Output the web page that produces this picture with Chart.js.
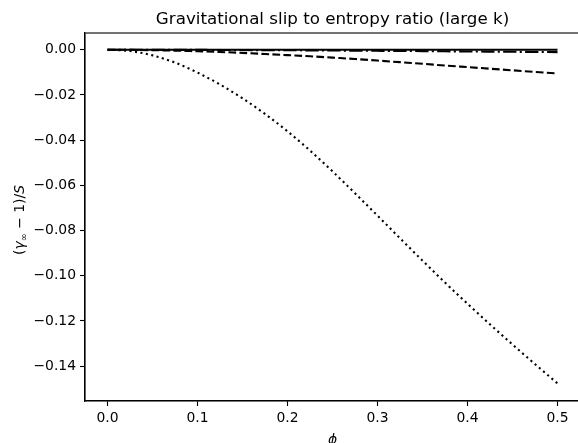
<!DOCTYPE html>
<html>
<head>
<meta charset="utf-8">
<script src="https://cdn.jsdelivr.net/npm/chart.js@4"></script>
<style>
html,body{margin:0;padding:0;overflow:hidden;background:#fff;}
#wrap{width:582px;height:443px;position:relative;}
</style>
</head>
<body>
<div id="wrap"><canvas id="c"></canvas></div>
<script>
const titleText = 'Gravitational slip to entropy ratio (large k)';
const xLabel = 'ϕ';

const phi = [0, 0.025, 0.05, 0.075, 0.1, 0.125, 0.15, 0.175, 0.2, 0.225, 0.25, 0.275, 0.3, 0.325, 0.35, 0.375, 0.4, 0.425, 0.45, 0.475, 0.5];
const solid = [0, 0, 0, 0, 0, 0, 0, 0, 0, 0, 0, 0, 0, 0, 0, 0, 0, 0, 0, 0, 0];
const dashed = [0, -0.00005, -0.0002, -0.0004, -0.0007, -0.0010, -0.0014, -0.0019, -0.0024, -0.0029, -0.0035, -0.0041, -0.0048, -0.0055, -0.0062, -0.0070, -0.0077, -0.0084, -0.0091, -0.0098, -0.0105];
const dashdot = [0, 0, -0.00002, -0.00004, -0.00007, -0.0001, -0.00014, -0.00019, -0.00024, -0.00029, -0.00035, -0.00041, -0.00048, -0.00055, -0.00062, -0.0007, -0.00077, -0.00084, -0.00091, -0.00098, -0.00105];
const dotted = [0, -0.0006, -0.0025, -0.0057, -0.0101, -0.0154, -0.0215, -0.0284, -0.0361, -0.0446, -0.0538, -0.0635, -0.0734, -0.0834, -0.0933, -0.1030, -0.1124, -0.1215, -0.1304, -0.1391, -0.1476];

const xTicks = [0, 0.1, 0.2, 0.3, 0.4, 0.5];
const yTicks = [0, -0.02, -0.04, -0.06, -0.08, -0.10, -0.12, -0.14];

const FONT = "'DejaVu Sans', sans-serif";
const pts = arr => phi.map((x, i) => ({x: x, y: arr[i]}));

function mk(label, arr, dash) {
  return {
    label: label, data: pts(arr), borderColor: '#000', borderWidth: 2.08,
    borderDash: dash, borderCapStyle: 'butt', pointRadius: 0,
    fill: false, cubicInterpolationMode: 'monotone'
  };
}

const framePlugin = {
  id: 'frame',
  afterDraw(chart) {
    const ctx = chart.ctx, a = chart.chartArea;
    ctx.save();
    ctx.strokeStyle = '#000';
    ctx.lineWidth = 1.1;
    ctx.strokeRect(a.left, a.top, a.right - a.left, a.bottom - a.top);
    const cx = (a.left + a.right) / 2;
    ctx.fillStyle = '#000';
    ctx.font = "16.7px " + FONT;
    ctx.textAlign = 'center';
    ctx.textBaseline = 'alphabetic';
    ctx.fillText(titleText, cx, 24);
    ctx.font = "italic 13.9px " + FONT;
    ctx.fillText(xLabel, cx, 444);
    ctx.translate(19, (a.top + a.bottom) / 2 + 3);
    ctx.rotate(-Math.PI / 2);
    ctx.textAlign = 'left';
    const f1 = "13.9px " + FONT, fi = "italic 13.9px " + FONT, fs = "9.7px " + FONT;
    const segs = [
      {t: '(', f: f1, dy: 0},
      {t: 'γ', f: fi, dy: 0},
      {t: '∞', f: fs, dy: 3},
      {t: ' − 1)/', f: f1, dy: 0},
      {t: 'S', f: fi, dy: 0}
    ];
    let w = 0;
    segs.forEach(s => { ctx.font = s.f; w += ctx.measureText(s.t).width; });
    let x = -w / 2;
    segs.forEach(s => { ctx.font = s.f; ctx.fillText(s.t, x, 5 + s.dy); x += ctx.measureText(s.t).width; });
    ctx.restore();
  }
};

const fmt = v => {
  if (Math.abs(v) < 1e-9) return '0.00';
  return v.toFixed(2).replace('-', '−');
};

new Chart(document.getElementById('c'), {
  type: 'line',
  data: {
    datasets: [
      mk('solid', solid, []),
      mk('dashed', dashed, [7.7, 3.3]),
      mk('dashdot', dashdot, [13.3, 3.3, 2.08, 3.3]),
      mk('dotted', dotted, [2.08, 3.44])
    ]
  },
  options: {
    responsive: true,
    maintainAspectRatio: false,
    animation: false,
    devicePixelRatio: 1,
    layout: {padding: {top: 33, right: 2, left: 0, bottom: 0}},
    plugins: {legend: {display: false}, title: {display: false}, tooltip: {enabled: false}},
    scales: {
      x: {
        type: 'linear', min: -0.025, max: 0.525,
        afterFit(s) { s.height = 42; },
        afterBuildTicks(s) { s.ticks = xTicks.map(v => ({value: v})); },
        ticks: {
          callback: v => v.toFixed(1), color: '#000', padding: 4,
          font: {family: FONT, size: 13.9}, maxRotation: 0, autoSkip: false
        },
        grid: {drawOnChartArea: false, drawTicks: true, tickLength: 5, color: '#000', tickWidth: 1.1},
        border: {display: true, color: '#000', width: 1.1}
      },
      y: {
        type: 'linear', min: -0.1554, max: 0.0074,
        afterFit(s) { s.width = 85; },
        afterBuildTicks(s) { s.ticks = yTicks.map(v => ({value: v})); },
        ticks: {
          callback: v => fmt(v), color: '#000', padding: 4,
          font: {family: FONT, size: 13.9}, autoSkip: false
        },
        grid: {drawOnChartArea: false, drawTicks: true, tickLength: 5, color: '#000', tickWidth: 1.1},
        border: {display: true, color: '#000', width: 1.1}
      }
    }
  },
  plugins: [framePlugin]
});
</script>
</body>
</html>
